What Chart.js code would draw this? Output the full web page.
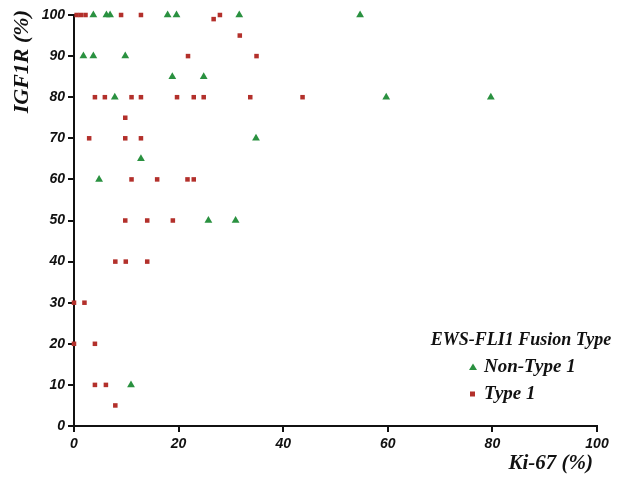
<!DOCTYPE html>
<html>
<head>
<meta charset="utf-8">
<script src="https://cdn.jsdelivr.net/npm/chart.js@4/dist/chart.umd.min.js"></script>
<style>
html,body{margin:0;padding:0;background:#fff;}
#wrap{position:relative;width:628px;height:481px;}
</style>
</head>
<body>
<div id="wrap"><canvas id="c" width="628" height="481"></canvas></div>
<script>
// Data (x = Ki-67 %, y = IGF1R %)
const nonType1X = [3.7, 6.2, 6.9, 17.9, 19.6, 31.6, 54.7, 1.8, 3.7, 9.8, 18.8, 24.8, 7.8, 59.7, 79.7, 34.8, 12.8, 4.8, 25.7, 30.9, 10.9];
const nonType1Y = [100, 100, 100, 100, 100, 100, 100, 90, 90, 90, 85, 85, 80, 80, 80, 70, 65, 60, 50, 50, 10];
const type1X = [0.5, 1.3, 2.2, 9.0, 12.8, 26.7, 27.9, 31.7, 21.8, 34.9, 4.0, 5.9, 11.0, 12.8, 19.7, 22.9, 24.8, 33.7, 43.7, 9.8, 2.9, 9.8, 12.8, 11.0, 15.9, 21.7, 22.9, 9.8, 14.0, 18.9, 7.9, 9.9, 14.0, 0, 2.0, 0, 4.0, 4.0, 6.1, 7.9];
const type1Y = [100, 100, 100, 100, 100, 99, 100, 95, 90, 90, 80, 80, 80, 80, 80, 80, 80, 80, 80, 75, 70, 70, 70, 60, 60, 60, 60, 50, 50, 50, 40, 40, 40, 30, 30, 20, 20, 10, 10, 5];
const xTicks = [0, 20, 40, 60, 80, 100];
const yTicks = [0, 10, 20, 30, 40, 50, 60, 70, 80, 90, 100];
const seriesNames = ['Non-Type 1', 'Type 1'];
const legendTitle = 'EWS-FLI1 Fusion Type';
const xTitle = 'Ki-67 (%)';
const yTitle = 'IGF1R (%)';

const GREEN = '#2a9140';
const RED = '#b3302b';
const tickFont = {family: '"Liberation Sans", Arial, sans-serif', size: 14, weight: 'bold', style: 'italic'};
const serif = '"Liberation Serif", "Times New Roman", serif';

const pts = (xs, ys) => xs.map((x, i) => ({x: x, y: ys[i]}));

const overlay = {
  id: 'overlay',
  afterDraw(chart) {
    const ctx = chart.ctx;
    ctx.save();
    ctx.fillStyle = '#111';
    // x title, right aligned
    ctx.font = 'italic bold 21px ' + serif;
    ctx.textAlign = 'right';
    ctx.textBaseline = 'middle';
    ctx.fillText(xTitle, 593, 464);
    // y title rotated, top aligned
    ctx.save();
    ctx.translate(22, 10);
    ctx.rotate(-Math.PI / 2);
    ctx.font = 'italic bold 22px ' + serif;
    ctx.textAlign = 'right';
    ctx.fillText(yTitle, 0, 0);
    ctx.restore();
    // legend
    ctx.font = 'italic bold 18px ' + serif;
    ctx.textAlign = 'center';
    ctx.fillText(legendTitle, 521, 340);
    ctx.font = 'italic bold 19px ' + serif;
    ctx.textAlign = 'left';
    const items = [
      {label: seriesNames[0], color: GREEN, shape: 'triangle', y: 367},
      {label: seriesNames[1], color: RED, shape: 'rect', y: 394}
    ];
    items.forEach(it => {
      ctx.fillStyle = it.color;
      if (it.shape === 'triangle') {
        ctx.beginPath();
        ctx.moveTo(473, it.y - 3.5);
        ctx.lineTo(477, it.y + 3);
        ctx.lineTo(469, it.y + 3);
        ctx.closePath();
        ctx.fill();
      } else {
        ctx.fillRect(470, it.y - 2.5, 5, 5);
      }
      ctx.fillStyle = '#111';
      ctx.fillText(it.label, 484, it.y);
    });
    ctx.restore();
  }
};

new Chart(document.getElementById('c'), {
  type: 'scatter',
  data: {
    datasets: [
      {label: seriesNames[0], data: pts(nonType1X, nonType1Y), pointStyle: 'triangle', pointRadius: 4.5,
       backgroundColor: GREEN, borderColor: GREEN, borderWidth: 0, clip: false},
      {label: seriesNames[1], data: pts(type1X, type1Y), pointStyle: 'rect', pointRadius: 3.2,
       backgroundColor: RED, borderColor: RED, borderWidth: 0, clip: false}
    ]
  },
  options: {
    responsive: false,
    animation: false,
    events: [],
    layout: {padding: {top: 15, right: 31, left: 0, bottom: 0}},
    plugins: {legend: {display: false}, tooltip: {enabled: false}},
    scales: {
      x: {
        type: 'linear', min: 0, max: 100,
        afterFit(s) { s.height = 55; },
        afterBuildTicks(s) { s.ticks = xTicks.map(v => ({value: v})); },
        border: {color: '#111', width: 2},
        grid: {drawOnChartArea: false, drawTicks: true, tickLength: 6, color: '#111', lineWidth: 2},
        ticks: {font: tickFont, color: '#111', padding: 4, maxRotation: 0}
      },
      y: {
        type: 'linear', min: 0, max: 100,
        afterFit(s) { s.width = 74; },
        afterBuildTicks(s) { s.ticks = yTicks.map(v => ({value: v})); },
        border: {color: '#111', width: 2},
        grid: {drawOnChartArea: false, drawTicks: true, tickLength: 6, color: '#111', lineWidth: 2},
        ticks: {font: tickFont, color: '#111', padding: 3}
      }
    }
  },
  plugins: [overlay]
});
</script>
</body>
</html>
